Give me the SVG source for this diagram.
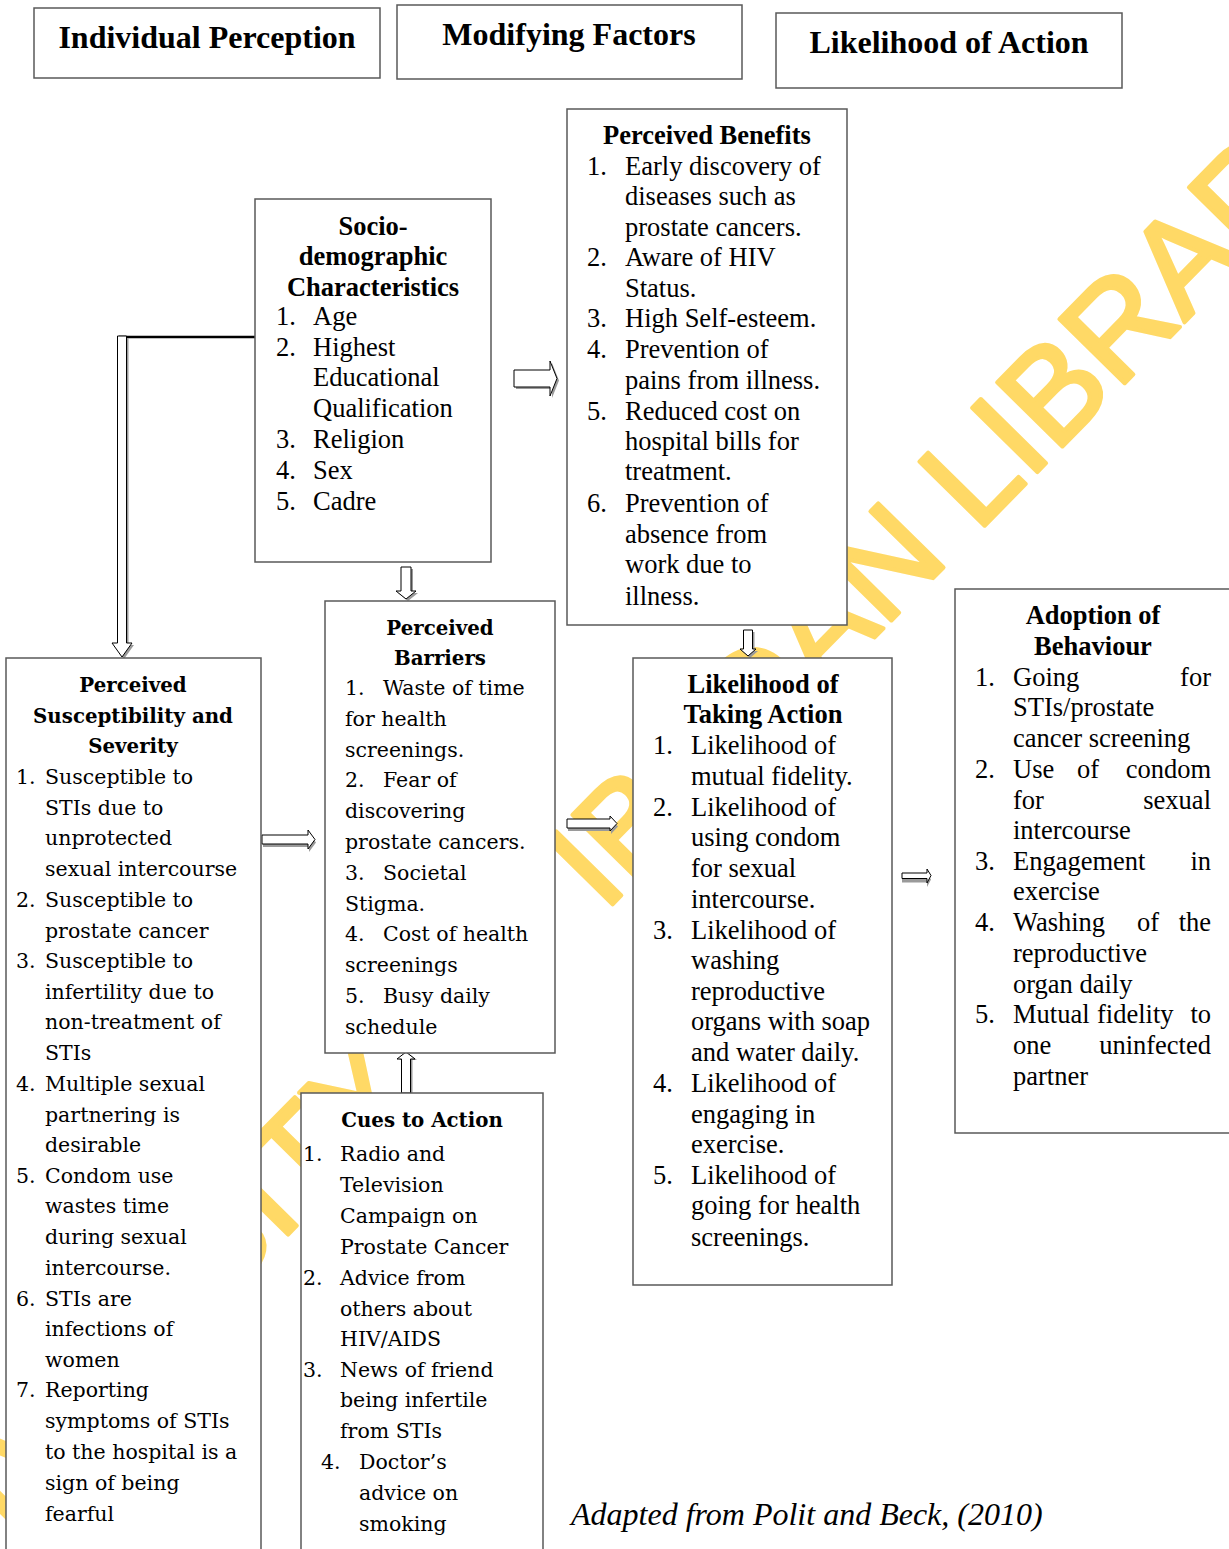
<svg xmlns="http://www.w3.org/2000/svg" width="1229" height="1549" viewBox="0 0 1229 1549">
<style>
.box{fill:#fff;stroke:#595959;stroke-width:1.5}
.hdr{font-family:"Liberation Serif",serif;font-weight:bold;font-size:32px;text-anchor:middle;fill:#000}
.t{font-family:"Liberation Serif",serif;font-size:26.5px;fill:#000}
.tb{font-family:"Liberation Serif",serif;font-size:26.5px;font-weight:bold;text-anchor:middle;fill:#000}
.c{font-family:"DejaVu Serif",serif;font-size:20.5px;fill:#000}
.cb{font-family:"DejaVu Serif",serif;font-size:19.8px;font-weight:bold;text-anchor:middle;fill:#000}
.e{text-anchor:end}
.arr{fill:#fff;stroke:#000;stroke-width:1}
.sh{fill:#9a9a9a;stroke:none}
.wm{font-family:"Liberation Sans",Arial,sans-serif;font-size:133px;fill:#FFD966;stroke:#FFD966;stroke-width:4;stroke-linejoin:round}
.cap{font-family:"Liberation Serif",serif;font-style:italic;font-size:32px;fill:#000}
</style>
<rect width="1229" height="1549" fill="#fff"/>
<g id="watermark">
<text class="wm" transform="translate(-135,1665) rotate(-45.5)" x="0" y="0">UNIVERSITY OF IBADAN LIBRARY</text>
</g>

<g id="hdr-individual"><rect class="box" x="34" y="8" width="346" height="70"/><text class="hdr" x="207" y="48">Individual Perception</text></g>
<g id="hdr-modifying"><rect class="box" x="397" y="5" width="345" height="74"/><text class="hdr" x="569" y="45">Modifying Factors</text></g>
<g id="hdr-likelihood"><rect class="box" x="776" y="13" width="346" height="75"/><text class="hdr" x="949" y="53">Likelihood of Action</text></g>

<g id="connectors">
<line x1="119" y1="337" x2="255" y2="337" stroke="#000" stroke-width="2.5"/>
<path class="sh" transform="translate(2,2)" d="M117.5,336 V643 H112 L122,657 L132,643 H126.5 V336 Z"/>
<path class="arr" d="M117.5,336 V643 H112 L122,657 L132,643 H126.5 V336 Z"/>
<path class="sh" transform="translate(2,2)" d="M514,370 H550 V361 L557,378.5 L550,396 V387 H514 Z"/>
<path class="arr" d="M514,370 H550 V361 L557,378.5 L550,396 V387 H514 Z"/>
<path class="sh" transform="translate(2,2)" d="M401,567 V591 H396 L406,599 L416,591 H411 V567 Z"/>
<path class="arr" d="M401,567 V591 H396 L406,599 L416,591 H411 V567 Z"/>
<path class="sh" transform="translate(1,3)" d="M262,835 H308 V830 L315,839.5 L308,849 V844 H262 Z"/>
<path class="arr" d="M262,835 H308 V830 L315,839.5 L308,849 V844 H262 Z"/>
<path class="sh" transform="translate(1,3)" d="M567,819 H610 V816 L617,823.5 L610,831 V828 H567 Z"/>
<path class="arr" d="M567,819 H610 V816 L617,823.5 L610,831 V828 H567 Z"/>
<path class="sh" transform="translate(2,2)" d="M743.5,630 V649 H740 L748,656 L756,649 H752.5 V630 Z"/>
<path class="arr" d="M743.5,630 V649 H740 L748,656 L756,649 H752.5 V630 Z"/>
<path class="sh" transform="translate(0,4)" d="M902,873 H927 V869 L931,875.5 L927,883 V878.5 H902 Z"/>
<path class="arr" d="M902,873 H927 V869 L931,875.5 L927,883 V878.5 H902 Z"/>
<path class="sh" transform="translate(2,1)" d="M401.5,1093 V1059 H397 L406,1052 L415,1059 H410.5 V1093 Z"/>
<path class="arr" d="M401.5,1093 V1059 H397 L406,1052 L415,1059 H410.5 V1093 Z"/>
</g>

<g id="socio">
<rect class="box" x="255" y="199" width="236" height="363"/>
<text class="tb" x="373" y="235">Socio-</text>
<text class="tb" x="373" y="265">demographic</text>
<text class="tb" x="373" y="296">Characteristics</text>
<g class="t">
<text x="276" y="325">1.</text><text x="313" y="325">Age</text>
<text x="276" y="356">2.</text><text x="313" y="356">Highest</text>
<text x="313" y="386">Educational</text>
<text x="313" y="417">Qualification</text>
<text x="276" y="448">3.</text><text x="313" y="448">Religion</text>
<text x="276" y="479">4.</text><text x="313" y="479">Sex</text>
<text x="276" y="510">5.</text><text x="313" y="510">Cadre</text>
</g>
</g>

<g id="benefits">
<rect class="box" x="567" y="109" width="280" height="516"/>
<text class="tb" x="707" y="144">Perceived Benefits</text>
<g class="t">
<text x="587" y="175">1.</text><text x="625" y="175">Early discovery of</text>
<text x="625" y="205">diseases such as</text>
<text x="625" y="236">prostate cancers.</text>
<text x="587" y="266">2.</text><text x="625" y="266">Aware of HIV</text>
<text x="625" y="297">Status.</text>
<text x="587" y="327">3.</text><text x="625" y="327">High Self-esteem.</text>
<text x="587" y="358">4.</text><text x="625" y="358">Prevention of</text>
<text x="625" y="389">pains from illness.</text>
<text x="587" y="420">5.</text><text x="625" y="420">Reduced cost on</text>
<text x="625" y="450">hospital bills for</text>
<text x="625" y="480">treatment.</text>
<text x="587" y="512">6.</text><text x="625" y="512">Prevention of</text>
<text x="625" y="543">absence from</text>
<text x="625" y="573">work due to</text>
<text x="625" y="605">illness.</text>
</g>
</g>

<g id="susceptibility">
<rect class="box" x="6" y="658" width="255" height="910"/>
<text class="cb" x="133" y="692">Perceived</text>
<text class="cb" x="133" y="723">Susceptibility and</text>
<text class="cb" x="133" y="753">Severity</text>
<g class="c">
<text x="16" y="784">1.</text><text x="45" y="784">Susceptible to</text>
<text x="45" y="815">STIs due to</text>
<text x="45" y="845">unprotected</text>
<text x="45" y="876">sexual intercourse</text>
<text x="16" y="907">2.</text><text x="45" y="907">Susceptible to</text>
<text x="45" y="938">prostate cancer</text>
<text x="16" y="968">3.</text><text x="45" y="968">Susceptible to</text>
<text x="45" y="999">infertility due to</text>
<text x="45" y="1029">non-treatment of</text>
<text x="45" y="1060">STIs</text>
<text x="16" y="1091">4.</text><text x="45" y="1091">Multiple sexual</text>
<text x="45" y="1122">partnering is</text>
<text x="45" y="1152">desirable</text>
<text x="16" y="1183">5.</text><text x="45" y="1183">Condom use</text>
<text x="45" y="1213">wastes time</text>
<text x="45" y="1244">during sexual</text>
<text x="45" y="1275">intercourse.</text>
<text x="16" y="1306">6.</text><text x="45" y="1306">STIs are</text>
<text x="45" y="1336">infections of</text>
<text x="45" y="1367">women</text>
<text x="16" y="1397">7.</text><text x="45" y="1397">Reporting</text>
<text x="45" y="1428">symptoms of STIs</text>
<text x="45" y="1459">to the hospital is a</text>
<text x="45" y="1490">sign of being</text>
<text x="45" y="1521">fearful</text>
</g>
</g>

<g id="barriers">
<rect class="box" x="325" y="601" width="230" height="452"/>
<text class="cb" x="440" y="635">Perceived</text>
<text class="cb" x="440" y="665">Barriers</text>
<g class="c">
<text x="345" y="695">1.</text><text x="383" y="695">Waste of time</text>
<text x="345" y="726">for health</text>
<text x="345" y="757">screenings.</text>
<text x="345" y="787">2.</text><text x="383" y="787">Fear of</text>
<text x="345" y="818">discovering</text>
<text x="345" y="849">prostate cancers.</text>
<text x="345" y="880">3.</text><text x="383" y="880">Societal</text>
<text x="345" y="911">Stigma.</text>
<text x="345" y="941">4.</text><text x="383" y="941">Cost of health</text>
<text x="345" y="972">screenings</text>
<text x="345" y="1003">5.</text><text x="383" y="1003">Busy daily</text>
<text x="345" y="1034">schedule</text>
</g>
</g>

<g id="cues">
<rect class="box" x="301" y="1093" width="242" height="475"/>
<text class="cb" x="422" y="1127">Cues to Action</text>
<g class="c">
<text x="303" y="1161">1.</text><text x="340" y="1161">Radio and</text>
<text x="340" y="1192">Television</text>
<text x="340" y="1223">Campaign on</text>
<text x="340" y="1254">Prostate Cancer</text>
<text x="303" y="1285">2.</text><text x="340" y="1285">Advice from</text>
<text x="340" y="1316">others about</text>
<text x="340" y="1346">HIV/AIDS</text>
<text x="303" y="1377">3.</text><text x="340" y="1377">News of friend</text>
<text x="340" y="1407">being infertile</text>
<text x="340" y="1438">from STIs</text>
<text x="321" y="1469">4.</text><text x="359" y="1469">Doctor’s</text>
<text x="359" y="1500">advice on</text>
<text x="359" y="1531">smoking</text>
</g>
</g>

<g id="likelihood">
<rect class="box" x="633" y="658" width="259" height="627"/>
<text class="tb" x="763" y="693">Likelihood of</text>
<text class="tb" x="763" y="723">Taking Action</text>
<g class="t">
<text x="653" y="754">1.</text><text x="691" y="754">Likelihood of</text>
<text x="691" y="785">mutual fidelity.</text>
<text x="653" y="816">2.</text><text x="691" y="816">Likelihood of</text>
<text x="691" y="846">using condom</text>
<text x="691" y="877">for sexual</text>
<text x="691" y="908">intercourse.</text>
<text x="653" y="939">3.</text><text x="691" y="939">Likelihood of</text>
<text x="691" y="969">washing</text>
<text x="691" y="1000">reproductive</text>
<text x="691" y="1030">organs with soap</text>
<text x="691" y="1061">and water daily.</text>
<text x="653" y="1092">4.</text><text x="691" y="1092">Likelihood of</text>
<text x="691" y="1123">engaging in</text>
<text x="691" y="1153">exercise.</text>
<text x="653" y="1184">5.</text><text x="691" y="1184">Likelihood of</text>
<text x="691" y="1214">going for health</text>
<text x="691" y="1246">screenings.</text>
</g>
</g>

<g id="adoption">
<rect class="box" x="955" y="589" width="290" height="544"/>
<text class="tb" x="1093" y="624">Adoption of</text>
<text class="tb" x="1093" y="655">Behaviour</text>
<g class="t">
<text x="975" y="686">1.</text><text x="1013" y="686">Going</text><text class="e" x="1211" y="686">for</text>
<text x="1013" y="716">STIs/prostate</text>
<text x="1013" y="747">cancer screening</text>
<text x="975" y="778">2.</text><text x="1013" y="778">Use</text><text x="1077" y="778">of</text><text class="e" x="1211" y="778">condom</text>
<text x="1013" y="809">for</text><text class="e" x="1211" y="809">sexual</text>
<text x="1013" y="839">intercourse</text>
<text x="975" y="870">3.</text><text x="1013" y="870">Engagement</text><text class="e" x="1211" y="870">in</text>
<text x="1013" y="900">exercise</text>
<text x="975" y="931">4.</text><text x="1013" y="931">Washing</text><text x="1137" y="931">of</text><text class="e" x="1211" y="931">the</text>
<text x="1013" y="962">reproductive</text>
<text x="1013" y="993">organ daily</text>
<text x="975" y="1023">5.</text><text x="1013" y="1023">Mutual</text><text x="1097" y="1023">fidelity</text><text class="e" x="1211" y="1023">to</text>
<text x="1013" y="1054">one</text><text class="e" x="1211" y="1054">uninfected</text>
<text x="1013" y="1085">partner</text>
</g>
</g>

<text class="cap" x="571" y="1525">Adapted from Polit and Beck, (2010)</text>
</svg>
